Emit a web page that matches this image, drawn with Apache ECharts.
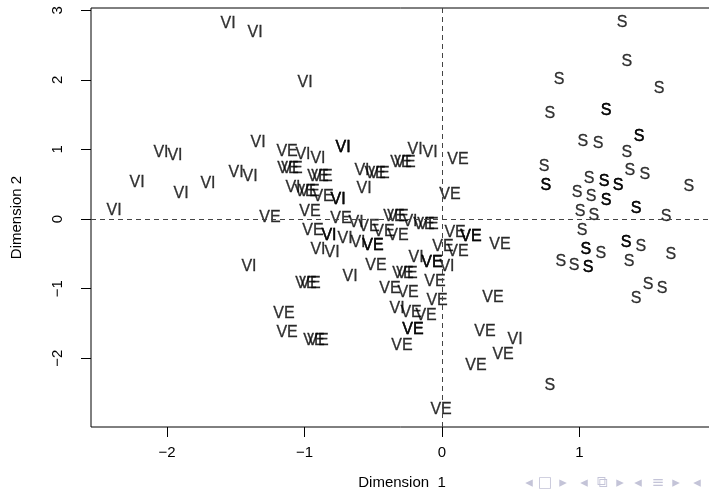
<!DOCTYPE html>
<html>
<head>
<meta charset="utf-8">
<script src="https://cdn.jsdelivr.net/npm/echarts@6/dist/echarts.min.js"></script>
<style>html,body{margin:0;padding:0;background:#fff}#c{width:709px;height:489px}</style>
</head>
<body>
<div id="c"></div>
<script>
// Species labels
const categories = ['S', 'VE', 'VI'];
// Setosa (S)
const sX = [1.309,1.345,0.851,1.578,0.785,1.193,1.193,1.025,1.135,1.433,1.433,1.345,0.742,0.756,0.756,1.367,1.476,1.069,1.178,1.178,1.280,1.280,1.796,0.982,1.084,1.193,1.193,1.411,1.411,1.004,1.105,1.629,1.018,1.338,1.338,1.447,1.047,1.047,1.156,1.665,0.865,0.960,1.062,1.062,1.360,1.498,1.600,1.411,0.785];
const sY = [2.816,2.256,1.997,1.868,1.509,1.552,1.552,1.106,1.078,1.178,1.178,0.948,0.747,0.474,0.474,0.690,0.632,0.575,0.532,0.532,0.474,0.474,0.460,0.374,0.316,0.259,0.259,0.144,0.144,0.101,0.043,0.029,-0.172,-0.345,-0.345,-0.402,-0.445,-0.445,-0.503,-0.517,-0.618,-0.675,-0.704,-0.704,-0.618,-0.948,-1.006,-1.149,-2.399];
// Versicolor (VE)
const veX = [-1.127,-1.120,-1.091,-0.902,-0.873,-0.487,-0.458,-0.298,-0.269,0.116,-0.996,-0.967,-0.865,0.058,-0.960,-1.251,-0.735,-0.531,-0.422,-0.320,-0.349,-0.320,-0.131,-0.102,-0.938,-0.502,-0.502,0.007,0.095,0.211,0.211,0.422,0.116,-0.480,-0.073,-0.073,-0.284,-0.255,-0.989,-0.960,-0.051,-0.378,-0.247,-0.036,-0.225,-0.116,-1.149,-0.211,-0.211,-1.127,-0.931,-0.902,-0.291,0.371,0.313,0.444,0.247,-0.007];
const veY = [0.963,0.718,0.718,0.603,0.603,0.647,0.647,0.805,0.805,0.848,0.388,0.388,0.316,0.345,0.101,0.014,0.000,-0.115,-0.187,-0.244,0.029,0.029,-0.086,-0.086,-0.172,-0.388,-0.388,-0.402,-0.201,-0.259,-0.259,-0.374,-0.474,-0.675,-0.632,-0.632,-0.790,-0.790,-0.934,-0.934,-0.905,-1.006,-1.063,-1.178,-1.351,-1.394,-1.365,-1.595,-1.595,-1.638,-1.753,-1.753,-1.825,-1.135,-1.624,-1.954,-2.112,-2.744];
// Virginica (VI)
const viX = [-1.556,-1.360,-0.996,-1.338,-2.044,-1.942,-1.011,-0.902,-0.720,-0.720,-0.196,-0.087,-2.218,-1.898,-1.702,-1.498,-1.396,-2.385,-1.084,-0.756,-0.756,-0.567,-0.582,-0.625,-0.233,-0.822,-0.822,-0.705,-0.611,-0.902,-0.800,-1.404,-0.189,0.036,-0.669,-0.327,0.531];
const viY = [2.802,2.672,1.954,1.092,0.948,0.905,0.920,0.862,1.020,1.020,0.991,0.948,0.517,0.359,0.503,0.661,0.603,0.115,0.445,0.273,0.273,0.431,0.690,-0.057,-0.043,-0.244,-0.244,-0.287,-0.345,-0.445,-0.489,-0.690,-0.560,-0.690,-0.833,-1.293,-1.739];
// Tick values
const xTicks = [-2, -1, 0, 1];
const yTicks = [-2, -1, 0, 1, 2, 3];
const xTitle = 'Dimension  1';
const yTitle = 'Dimension 2';
// Beamer navigation symbols
const navSymbols = ['\u25C2', '\u25A1', '\u25B8', '\u25C2', '\u29C9', '\u25B8', '\u25C2', '\u2261', '\u25B8', '\u25C2'];
const navX = [529, 545, 563, 584, 602, 620, 638, 658, 676, 697];

const FONT = '"Liberation Sans", Arial, Helvetica, sans-serif';
const zip = (xs, ys) => xs.map((x, i) => [x, ys[i]]);
const fmt = v => String(v).replace('-', '\u2212');

function labelSeries(name, xs, ys) {
  return {
    type: 'scatter', name: name, data: zip(xs, ys),
    symbol: 'circle', symbolSize: 1,
    itemStyle: { color: 'rgba(0,0,0,0)' },
    label: { show: true, position: 'inside', formatter: name, color: '#000',
             fontFamily: FONT, fontSize: 16,
             textBorderColor: '#000', textBorderWidth: 0.3 },
    silent: true, emphasis: { disabled: true }
  };
}

const chart = echarts.init(document.getElementById('c'), null, { renderer: 'canvas' });
const series = [
  labelSeries(categories[0], sX, sY),
  labelSeries(categories[1], veX, veY),
  labelSeries(categories[2], viX, viY)
];
series.push({
  type: 'line', data: [], silent: true,
  markLine: {
    silent: true, symbol: ['none', 'none'], label: { show: false },
    lineStyle: { color: '#444', type: [5, 4], width: 1 },
    data: [{ xAxis: 0 }, { yAxis: 0 }]
  }
});

chart.setOption({
  animation: false,
  backgroundColor: '#fff',
  grid: { left: 91, top: 8, width: 622, height: 419, show: true,
          outerBoundsMode: 'none', containLabel: false,
          borderColor: '#000', borderWidth: 1, backgroundColor: 'transparent' },
  xAxis: {
    type: 'value', min: -2.553, max: 1.971,
    axisLine: { show: false, onZero: false },
    splitLine: { show: false },
    axisTick: { show: true, length: 10, customValues: xTicks, lineStyle: { color: '#000' } },
    axisLabel: { customValues: xTicks, formatter: fmt, margin: 18, color: '#000',
                 fontFamily: FONT, fontSize: 15 },
    name: xTitle, nameLocation: 'middle', nameGap: 48,
    nameTextStyle: { color: '#000', fontFamily: FONT, fontSize: 15 }
  },
  yAxis: {
    type: 'value', min: -2.989, max: 3.032,
    axisLine: { show: false, onZero: false },
    splitLine: { show: false },
    axisTick: { show: true, length: 10, customValues: yTicks, lineStyle: { color: '#000' } },
    axisLabel: { customValues: yTicks, formatter: fmt, rotate: 90, margin: 26, color: '#000',
                 fontFamily: FONT, fontSize: 15 },
    name: yTitle, nameLocation: 'middle', nameGap: 67, nameRotate: 90,
    nameTextStyle: { color: '#000', fontFamily: FONT, fontSize: 15 }
  },
  graphic: navSymbols.map((s, i) => ({
    type: 'text', x: navX[i], y: 483, silent: true,
    style: { text: s, fill: '#c4c4d8', align: 'center', verticalAlign: 'middle',
             font: '15px "DejaVu Sans", sans-serif' }
  })),
  series: series
});
</script>
</body>
</html>
